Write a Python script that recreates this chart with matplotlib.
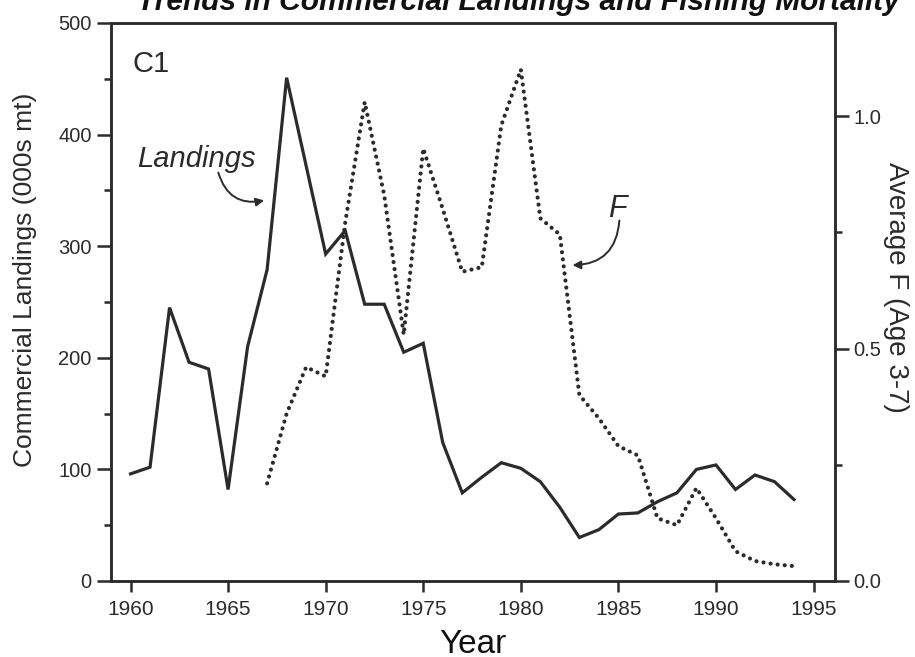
import matplotlib
matplotlib.use('Agg')
import matplotlib.pyplot as plt
from matplotlib.ticker import MultipleLocator

plt.rcParams['font.family'] = ['Liberation Sans', 'DejaVu Sans']

# 数据
years_land = list(range(1960, 1995))
landings = [96, 102, 245, 196, 190, 82, 210, 279, 451, 372,
            293, 314, 248, 248, 205, 213, 124, 79, 93, 106,
            101, 89, 66, 39, 46, 60, 61, 71, 79, 100,
            104, 82, 95, 89, 73]

years_f = list(range(1967, 1995))
avg_f = [0.21, 0.36, 0.46, 0.44, 0.77, 1.03, 0.83, 0.53, 0.93, 0.80,
         0.665, 0.675, 0.98, 1.10, 0.78, 0.745, 0.40, 0.35, 0.29, 0.27,
         0.135, 0.12, 0.20, 0.135, 0.064, 0.043, 0.036, 0.032]

x_ticks = [1960, 1965, 1970, 1975, 1980, 1985, 1990, 1995]
left_ticks = [0, 100, 200, 300, 400, 500]
right_ticks = [0.0, 0.5, 1.0]
right_labels = ['0.0', '0.5', '1.0']

ink = '#2b2b2b'

fig = plt.figure(figsize=(9.15, 6.57), dpi=100)
ax = fig.add_axes([111 / 915, 1 - 581 / 657, 724 / 915, 558 / 657])
ax2 = ax.twinx()

# 绘制曲线
ax.plot(years_land, landings, color=ink, lw=2.3, solid_joinstyle='miter', zorder=3)
ax2.plot(years_f, avg_f, color=ink, lw=3.0, linestyle=(0, (0.01, 1.7)),
         dash_capstyle='round', zorder=3)

ax.set_xlim(1959.0, 1996.1)
ax.set_ylim(0, 500)
ax2.set_ylim(0, 1.2)

ax.set_xticks(x_ticks)
ax.set_yticks(left_ticks)
ax.yaxis.set_minor_locator(MultipleLocator(50))
ax2.set_yticks(right_ticks)
ax2.set_yticklabels(right_labels)
ax2.yaxis.set_minor_locator(MultipleLocator(0.25))

for a in (ax, ax2):
    for s in a.spines.values():
        s.set_linewidth(1.8)
        s.set_color(ink)
ax.tick_params(axis='x', which='major', direction='out', length=8, width=1.8,
               labelsize=15, pad=6, colors=ink)
ax.tick_params(axis='y', which='major', direction='out', length=10, width=1.8,
               labelsize=14.5, pad=4, colors=ink)
ax.tick_params(axis='y', which='minor', direction='out', length=5, width=1.8, colors=ink)
ax2.tick_params(axis='y', which='major', direction='out', length=10, width=1.8,
                labelsize=14.5, pad=3, colors=ink)
ax2.tick_params(axis='y', which='minor', direction='out', length=5, width=1.8, colors=ink)

# 标注
ax.text(1960.1, 456, 'C1', fontsize=21, color=ink, va='baseline', ha='left')
ax.text(1960.36, 371, 'Landings', fontsize=21, style='italic', color=ink,
        va='baseline', ha='left')
ax.text(1984.45, 326, 'F', fontsize=22, style='italic', color=ink,
        va='baseline', ha='left')
ax.annotate('', xy=(1966.85, 341), xytext=(1964.5, 366),
            arrowprops=dict(arrowstyle='-|>', connectionstyle='arc3,rad=0.45',
                            lw=1.4, color=ink, mutation_scale=12,
                            shrinkA=0, shrinkB=0))
ax.annotate('', xy=(1982.65, 283), xytext=(1985.05, 323),
            arrowprops=dict(arrowstyle='-|>', connectionstyle='arc3,rad=-0.45',
                            lw=1.4, color=ink, mutation_scale=12,
                            shrinkA=0, shrinkB=0))

# 标题和轴标签
fig.text(518 / 915, 1 - 9.5 / 657, 'Trends in Commercial Landings and Fishing Mortality',
         fontsize=21.5, fontweight='bold', style='italic', color='#111111',
         ha='center', va='baseline')
fig.text(25 / 915, 1 - 280 / 657, 'Commercial Landings (000s mt)', fontsize=19,
         rotation=90, ha='center', va='center', color=ink)
fig.text(896 / 915, 1 - 287 / 657, 'Average F (Age 3-7)', fontsize=20,
         rotation=270, ha='center', va='center', color=ink)
fig.text(473 / 915, 4 / 657, 'Year', fontsize=24, ha='center', va='baseline',
         color='#111111')

fig.savefig('out.png', dpi=100)
